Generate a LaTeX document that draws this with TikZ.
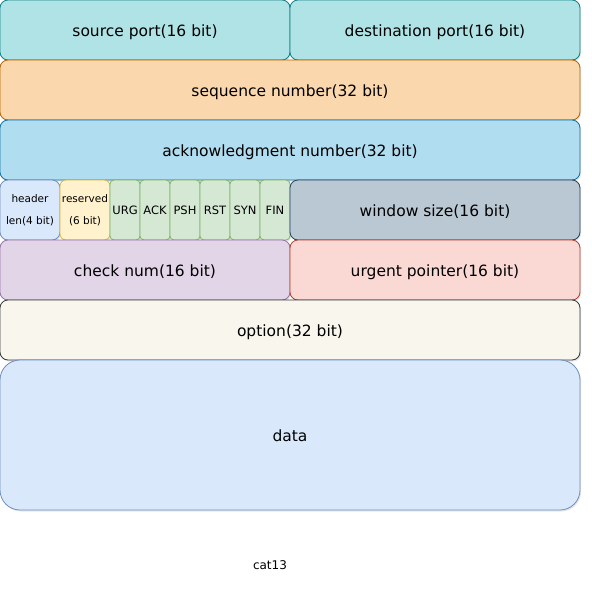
\documentclass[tikz,border=0pt]{standalone}
\usepackage{fontspec}
\setmainfont{DejaVu Sans}
\usetikzlibrary{shadows}
\definecolor{cyanF}{HTML}{B0E3E6}\definecolor{cyanD}{HTML}{0E8088}
\definecolor{orgF}{HTML}{FAD7AC}\definecolor{orgD}{HTML}{B46504}
\definecolor{ackF}{HTML}{B1DDF0}\definecolor{ackD}{HTML}{10739E}
\definecolor{bluF}{HTML}{DAE8FC}\definecolor{bluD}{HTML}{6C8EBF}
\definecolor{yelF}{HTML}{FFF2CC}\definecolor{yelD}{HTML}{D6B656}
\definecolor{grnF}{HTML}{D5E8D4}\definecolor{grnD}{HTML}{82B366}
\definecolor{gryF}{HTML}{BAC8D3}\definecolor{gryD}{HTML}{23445D}
\definecolor{purF}{HTML}{E1D5E7}\definecolor{purD}{HTML}{9673A6}
\definecolor{redF}{HTML}{FAD9D5}\definecolor{redD}{HTML}{AE4132}
\definecolor{optF}{HTML}{F9F7ED}\definecolor{optD}{HTML}{36393D}
\tikzset{
  fld/.style={draw, rectangle, rounded corners=#1, minimum height=60pt, inner sep=0pt,
    line width=0.8pt, font=\fontsize{15.5}{18}\selectfont,
    drop shadow={opacity=0.2, shadow xshift=1.2pt, shadow yshift=-1.5pt}},
  fld/.default=8pt,
  lbl/.style={text height=16pt, text depth=3.5pt},
  small/.style={font=\fontsize{10.5}{22}\selectfont, align=center},
  flag/.style={fld=4pt, minimum width=30pt, fill=grnF, draw=grnD, font=\fontsize{11.5}{14}\selectfont,
    text height=12pt, text depth=2.5pt}
}
\begin{document}
\begin{tikzpicture}[x=1pt,y=-1pt]
\useasboundingbox (0,0) rectangle (592,592);
\node[fld, lbl, minimum width=290pt, fill=cyanF, draw=cyanD] (src) at (145,30) {source port(16 bit)};
\node[fld, lbl, minimum width=290pt, fill=cyanF, draw=cyanD] (dst) at (435,30) {destination port(16 bit)};
\node[fld, lbl, minimum width=580pt, fill=orgF, draw=orgD] (seq) at (290,90) {sequence number(32 bit)};
\node[fld, lbl, minimum width=580pt, fill=ackF, draw=ackD] (ack) at (290,150) {acknowledgment number(32 bit)};
\node[fld, minimum width=60pt, fill=bluF, draw=bluD, small] (hdr) at (30,210) {header\\len(4 bit)};
\node[fld=6pt, minimum width=50pt, fill=yelF, draw=yelD, small] (rsv) at (85,210) {reserved\\(6 bit)};
\node[flag] (urg) at (125,210) {URG};
\node[flag] (ackf) at (155,210) {ACK};
\node[flag] (psh) at (185,210) {PSH};
\node[flag] (rst) at (215,210) {RST};
\node[flag] (syn) at (245,210) {SYN};
\node[flag] (fin) at (275,210) {FIN};
\node[fld, lbl, minimum width=290pt, fill=gryF, draw=gryD] (win) at (435,210) {window size(16 bit)};
\node[fld, lbl, minimum width=290pt, fill=purF, draw=purD] (chk) at (145,270) {check num(16 bit)};
\node[fld, lbl, minimum width=290pt, fill=redF, draw=redD] (urp) at (435,270) {urgent pointer(16 bit)};
\node[fld, lbl, minimum width=580pt, fill=optF, draw=optD] (opt) at (290,330) {option(32 bit)};
\node[fld=20pt, lbl, minimum width=580pt, minimum height=150pt, fill=bluF, draw=bluD] (data) at (290,435) {data};
\node[font=\fontsize{12}{14}\selectfont] (cat) at (270,565) {cat13};
\end{tikzpicture}
\end{document}
